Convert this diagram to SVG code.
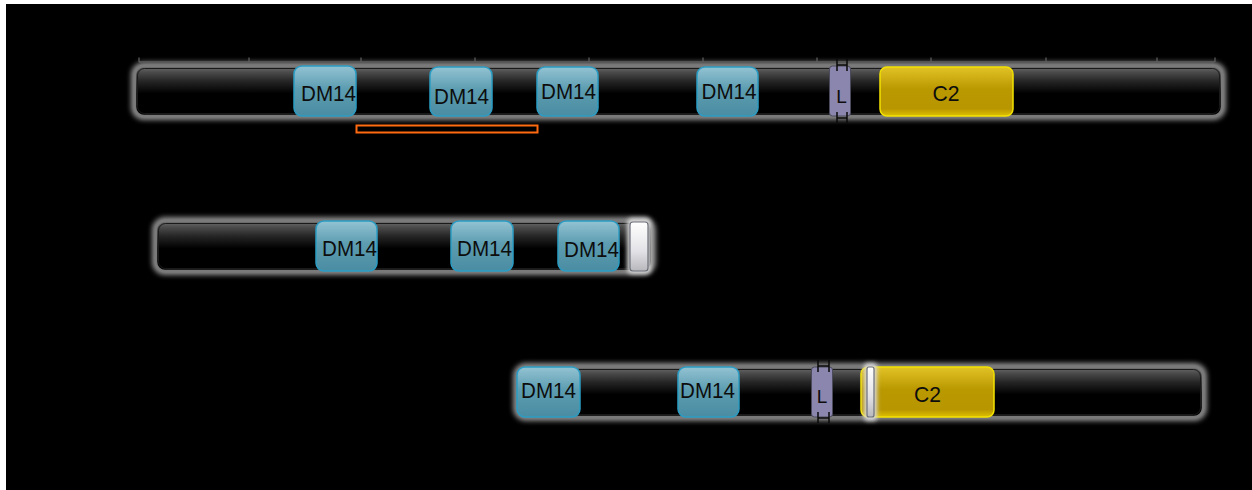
<svg xmlns="http://www.w3.org/2000/svg" width="1252" height="490" viewBox="0 0 1252 490">
  <defs>
    <linearGradient id="barFill" x1="0" y1="0" x2="0" y2="1">
      <stop offset="0" stop-color="#707070"/>
      <stop offset="0.12" stop-color="#4c4c4c"/>
      <stop offset="0.3" stop-color="#262626"/>
      <stop offset="0.55" stop-color="#000"/>
      <stop offset="1" stop-color="#000"/>
    </linearGradient>
    <linearGradient id="dmFill" x1="0" y1="0" x2="0" y2="1">
      <stop offset="0" stop-color="#93c3d3"/>
      <stop offset="0.45" stop-color="#5d9db1"/>
      <stop offset="1" stop-color="#4a8ca2"/>
    </linearGradient>
    <linearGradient id="c2Fill" x1="0" y1="0" x2="0" y2="1">
      <stop offset="0" stop-color="#e2c326"/>
      <stop offset="0.45" stop-color="#b99800"/>
      <stop offset="0.85" stop-color="#b89600"/>
      <stop offset="1" stop-color="#e0c000"/>
    </linearGradient>
    <linearGradient id="capFill" x1="0" y1="0" x2="0" y2="1">
      <stop offset="0" stop-color="#ffffff"/>
      <stop offset="0.6" stop-color="#e2e2e6"/>
      <stop offset="1" stop-color="#b8b8bc"/>
    </linearGradient>
    <filter id="glow" x="-5%" y="-40%" width="110%" height="180%">
      <feGaussianBlur stdDeviation="2.4"/>
    </filter>
    <filter id="capGlow" x="-100%" y="-20%" width="300%" height="140%">
      <feGaussianBlur stdDeviation="2"/>
    </filter>
  </defs>
  <style>
    .halo { fill: none; stroke: #8e8e8e; stroke-width: 8; filter: url(#glow); }
    .body { fill: url(#barFill); stroke: #7a7a7a; stroke-width: 2.5; }
    .edge { fill: none; stroke: #1a1a1a; stroke-width: 1; }
    .dm { fill: url(#dmFill); stroke: #2b9dc4; stroke-width: 1.5; }
    .c2 { fill: url(#c2Fill); stroke: #f4e200; stroke-width: 1.5; }
    .link { fill: #8b86ad; stroke: #4a4a5a; stroke-width: 1; }
    .cap { fill: url(#capFill); stroke: #6a6e78; stroke-width: 1.2; }
    .capHalo { fill: #d8d8d8; filter: url(#capGlow); }
    .mark { stroke: #0a0a0a; stroke-width: 1.5; fill: none; }
    .ruler { stroke: #5c5c5c; stroke-width: 1.3; fill: none; }
    .lbl { font-family: "Liberation Sans", Arial, sans-serif; font-size: 22px; fill: #0d0d0d; text-anchor: middle; }
    .lblL { font-family: "Liberation Sans", Arial, sans-serif; font-size: 19px; fill: #0d0d0d; text-anchor: middle; }
  </style>

  <!-- page -->
  <rect x="0" y="0" width="1252" height="490" fill="#fff"/>
  <rect x="6" y="4" width="1246" height="486" fill="#000"/>

  <!-- full-length protein -->
  <g id="protein-full">
    <rect class="halo" x="135" y="66" width="1087" height="50" rx="9"/>
    <rect class="body" x="135" y="66" width="1087" height="50" rx="9"/>
    <rect class="edge" x="137.5" y="68.5" width="1082" height="45" rx="7"/>
    <path class="ruler" d="M139 62H1215M139 57.5V62M249 57.5V62M361 57.5V62M475 57.5V62M589 57.5V62M703 57.5V62M817 57.5V62M931 57.5V62M1046 57.5V62M1157 57.5V62M1215 57.5V62"/>
    <g id="full-dm14-1">
      <rect class="dm" x="294" y="66" width="62" height="50" rx="8"/>
      <text class="lbl" x="328.5" y="101" textLength="55" lengthAdjust="spacingAndGlyphs">DM14</text>
    </g>
    <g id="full-dm14-2">
      <rect class="dm" x="430" y="67" width="62" height="49" rx="8"/>
      <text class="lbl" x="461.5" y="104" textLength="55" lengthAdjust="spacingAndGlyphs">DM14</text>
    </g>
    <g id="full-dm14-3">
      <rect class="dm" x="537" y="67" width="61" height="49" rx="8"/>
      <text class="lbl" x="568.5" y="99" textLength="55" lengthAdjust="spacingAndGlyphs">DM14</text>
    </g>
    <g id="full-dm14-4">
      <rect class="dm" x="697" y="67" width="61" height="49" rx="8"/>
      <text class="lbl" x="729" y="99" textLength="55" lengthAdjust="spacingAndGlyphs">DM14</text>
    </g>
    <g id="full-linker">
      <rect class="link" x="829.5" y="66" width="21" height="50" rx="3"/>
      <path class="mark" d="M837 59V71M847 59V71M837 65H847M837 112V123M847 112V123M837 118H847"/>
      <text class="lblL" x="841.5" y="103">L</text>
    </g>
    <g id="full-c2">
      <rect class="c2" x="880" y="67" width="133" height="49" rx="7"/>
      <text class="lbl" x="946" y="101" textLength="27" lengthAdjust="spacingAndGlyphs">C2</text>
    </g>
  </g>

  <!-- region bracket under the first DM14 repeats -->
  <g id="region-bracket">
    <rect x="356.5" y="125.5" width="181" height="7" fill="none" stroke="#ff6a10" stroke-width="2"/>
  </g>

  <!-- truncated isoform, three DM14 repeats -->
  <g id="protein-short">
    <rect class="halo" x="156" y="221" width="496" height="50" rx="9"/>
    <rect class="body" x="156" y="221" width="496" height="50" rx="9"/>
    <rect class="edge" x="158.5" y="223.5" width="491" height="45" rx="7"/>
    <g id="short-dm14-1">
      <rect class="dm" x="316" y="221" width="61" height="50" rx="8"/>
      <text class="lbl" x="349.5" y="256" textLength="55" lengthAdjust="spacingAndGlyphs">DM14</text>
    </g>
    <g id="short-dm14-2">
      <rect class="dm" x="451" y="221" width="62" height="50" rx="8"/>
      <text class="lbl" x="484.5" y="256" textLength="55" lengthAdjust="spacingAndGlyphs">DM14</text>
    </g>
    <g id="short-dm14-3">
      <rect class="dm" x="558" y="221" width="61" height="50" rx="8"/>
      <text class="lbl" x="591.5" y="257" textLength="55" lengthAdjust="spacingAndGlyphs">DM14</text>
    </g>
    <g id="short-end">
      <rect class="capHalo" x="627" y="218" width="24" height="56" rx="5"/>
      <rect class="cap" x="630" y="222" width="18" height="49" rx="3"/>
    </g>
  </g>

  <!-- N-terminally truncated isoform with linker and C2 -->
  <g id="protein-c2">
    <rect class="halo" x="517" y="367" width="686" height="50" rx="9"/>
    <rect class="body" x="517" y="367" width="686" height="50" rx="9"/>
    <rect class="edge" x="519.5" y="369.5" width="681" height="45" rx="7"/>
    <g id="c2form-dm14-1">
      <rect class="dm" x="517" y="367" width="63" height="50" rx="8"/>
      <text class="lbl" x="548.5" y="398" textLength="55" lengthAdjust="spacingAndGlyphs">DM14</text>
    </g>
    <g id="c2form-dm14-2">
      <rect class="dm" x="678" y="367" width="61" height="50" rx="8"/>
      <text class="lbl" x="707.5" y="398" textLength="55" lengthAdjust="spacingAndGlyphs">DM14</text>
    </g>
    <g id="c2form-linker">
      <rect class="link" x="811.5" y="367" width="21" height="50" rx="3"/>
      <path class="mark" d="M818 360V372M829 360V372M818 366H829M818 412V423M829 412V423M818 418H829"/>
      <text class="lblL" x="822" y="403">L</text>
    </g>
    <g id="c2form-c2">
      <rect class="c2" x="861" y="367" width="133" height="50" rx="7"/>
      <text class="lbl" x="927.5" y="402" textLength="27" lengthAdjust="spacingAndGlyphs">C2</text>
    </g>
    <g id="c2form-start">
      <rect class="capHalo" x="864" y="363" width="13" height="58" rx="4"/>
      <rect class="cap" x="867" y="367" width="7" height="50" rx="2"/>
    </g>
  </g>
</svg>
